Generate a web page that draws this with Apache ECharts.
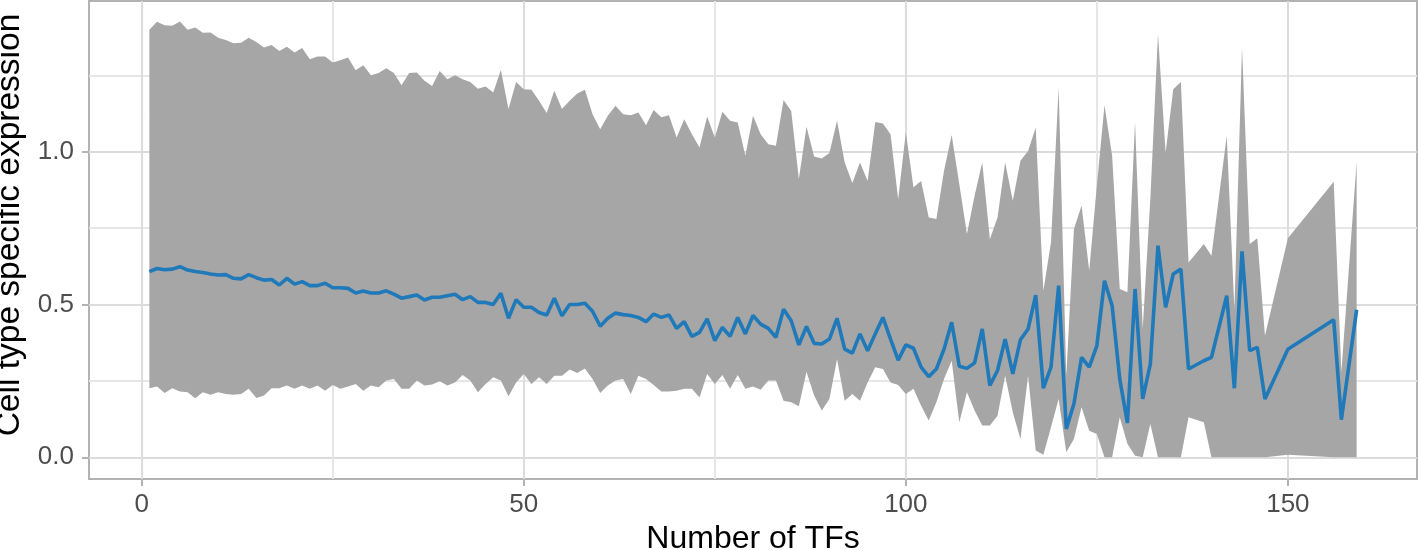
<!DOCTYPE html>
<html>
<head>
<meta charset="utf-8">
<script src="https://cdn.jsdelivr.net/npm/echarts@6/dist/echarts.min.js"></script>
<style>
html,body{margin:0;padding:0;background:#fff;}
#chart{width:1418px;height:550px;}
</style>
</head>
<body>
<div id="chart"></div>
<script>
var numTFs = [1,2,3,4,5,6,7,8,9,10,11,12,13,14,15,16,17,18,19,20,
 21,22,23,24,25,26,27,28,29,30,31,32,33,34,35,36,37,38,39,40,
 41,42,43,44,45,46,47,48,49,50,51,52,53,54,55,56,57,58,59,60,
 61,62,63,64,65,66,67,68,69,70,71,72,73,74,75,76,77,78,79,80,
 81,82,83,84,85,86,87,88,89,90,91,92,93,94,95,96,97,98,99,100,
 101,102,103,104,105,106,107,108,109,110,111,112,113,114,115,116,117,118,119,120,
 121,122,123,124,125,126,127,128,129,130,131,132,133,134,135,136,137,
 139,140,142,143,144,145,146,147,150,156,157,159];

var upperBand = [1.40,1.426,1.415,1.413,1.427,1.40,1.407,1.39,1.391,1.374,
 1.366,1.356,1.357,1.374,1.36,1.342,1.35,1.33,1.344,1.325,
 1.34,1.303,1.312,1.312,1.293,1.30,1.309,1.267,1.284,1.251,
 1.258,1.274,1.258,1.218,1.258,1.26,1.233,1.216,1.265,1.238,
 1.251,1.238,1.229,1.207,1.214,1.194,1.268,1.14,1.229,1.205,
 1.203,1.167,1.127,1.20,1.14,1.167,1.191,1.203,1.123,1.074,
 1.118,1.151,1.123,1.12,1.129,1.087,1.137,1.113,1.12,1.047,
 1.107,1.058,1.014,1.116,1.047,1.131,1.102,1.096,0.987,1.118,
 1.058,1.025,1.02,1.17,1.134,0.911,1.082,0.985,0.978,0.996,
 1.102,0.965,0.898,0.965,0.905,1.098,1.093,1.058,0.845,1.064,
 0.884,0.905,0.785,0.78,0.938,1.055,0.894,0.731,0.856,0.965,
 0.714,0.785,0.965,0.84,0.971,1.003,1.08,0.545,0.704,1.211,
 0.267,0.747,0.824,0.611,0.889,1.153,0.987,0.551,0.54,1.098,
 0.42,0.845,1.385,0.998,1.205,1.229,0.638,
 0.698,0.66,1.053,0.485,1.342,0.698,0.717,0.398,0.717,0.902,0.278,0.967];

var meanExpr = [0.608,0.618,0.614,0.616,0.624,0.613,0.608,0.605,0.60,0.597,
 0.598,0.586,0.584,0.598,0.588,0.58,0.582,0.564,0.586,0.567,
 0.575,0.562,0.562,0.57,0.555,0.555,0.553,0.538,0.544,0.538,
 0.538,0.545,0.534,0.521,0.526,0.531,0.515,0.524,0.524,0.529,
 0.534,0.516,0.526,0.507,0.507,0.50,0.537,0.455,0.516,0.491,
 0.491,0.474,0.466,0.521,0.463,0.50,0.50,0.504,0.478,0.429,
 0.455,0.472,0.467,0.464,0.458,0.444,0.469,0.458,0.466,0.422,
 0.444,0.396,0.409,0.453,0.382,0.425,0.396,0.458,0.404,0.464,
 0.436,0.422,0.393,0.485,0.447,0.368,0.428,0.373,0.371,0.387,
 0.455,0.354,0.341,0.404,0.349,0.404,0.458,0.387,0.318,0.368,
 0.357,0.295,0.264,0.289,0.354,0.442,0.298,0.291,0.309,0.42,
 0.235,0.284,0.387,0.273,0.385,0.42,0.531,0.226,0.295,0.562,
 0.093,0.175,0.327,0.295,0.365,0.578,0.496,0.256,0.112,0.551,
 0.191,0.305,0.693,0.491,0.60,0.616,0.289,
 0.316,0.327,0.529,0.226,0.674,0.349,0.36,0.191,0.354,0.45,0.123,0.483];

var lowerBand = [0.226,0.232,0.21,0.226,0.215,0.213,0.193,0.213,0.205,0.213,
 0.207,0.205,0.207,0.224,0.194,0.202,0.226,0.226,0.235,0.224,
 0.235,0.224,0.235,0.218,0.237,0.224,0.232,0.24,0.218,0.235,
 0.229,0.251,0.256,0.224,0.224,0.251,0.235,0.238,0.249,0.235,
 0.245,0.269,0.251,0.213,0.24,0.262,0.251,0.20,0.245,0.273,
 0.24,0.262,0.24,0.267,0.267,0.287,0.276,0.291,0.256,0.21,
 0.235,0.251,0.256,0.207,0.267,0.256,0.237,0.215,0.215,0.218,
 0.224,0.224,0.196,0.273,0.24,0.269,0.224,0.269,0.224,0.232,
 0.221,0.251,0.251,0.185,0.18,0.167,0.28,0.202,0.153,0.191,
 0.322,0.185,0.207,0.185,0.245,0.295,0.289,0.245,0.237,0.207,
 0.224,0.169,0.12,0.18,0.256,0.316,0.115,0.213,0.153,0.104,
 0.104,0.136,0.267,0.147,0.06,0.267,0.022,0.008,0.098,0.191,
 0.016,0.06,0.164,0.087,0.076,0,0,0.131,0.044,0.005,
 0,0.109,0,0,0,0,0.131,
 0.115,0,0,0,0,0,0,0,0.008,0,0,0];

var xMajorTicks = [0, 50, 100, 150];
var xGridValues = [0, 25, 50, 75, 100, 125, 150];
var yMajorTicks = [0, 0.5, 1.0];
var yGridValues = [0, 0.25, 0.5, 0.75, 1.0, 1.25];

var FONT = "'Liberation Sans', Arial, Helvetica, sans-serif";
var X_MIN = -6.9, X_MAX = 166.9, Y_MIN = -0.0712, Y_MAX = 1.494;

var bandData = numTFs.map(function (x, i) { return [x, lowerBand[i], upperBand[i]]; });
var meanData = numTFs.map(function (x, i) { return [x, meanExpr[i]]; });

var chart = echarts.init(document.getElementById('chart'), null, {renderer: 'canvas'});
chart.setOption({
  animation: false,
  backgroundColor: '#ffffff',
  grid: {left: 89, right: 1, top: 1, bottom: 71, show: true, borderColor: '#b3b3b3', borderWidth: 2,
    backgroundColor: 'transparent', containLabel: false, outerBoundsMode: 'none'},
  xAxis: [{
    type: 'value', min: X_MIN, max: X_MAX, position: 'bottom',
    name: 'Number of TFs', nameLocation: 'middle', nameGap: 44,
    nameTextStyle: {fontFamily: FONT, fontSize: 32, color: '#000000'},
    axisLine: {show: false, onZero: false},
    axisTick: {show: false, customValues: xGridValues},
    axisLabel: {customValues: xMajorTicks, fontFamily: FONT, fontSize: 26, color: '#4d4d4d', margin: 13},
    splitLine: {show: true, lineStyle: {color: ['#dcdcdc', '#e6e6e6'], width: 2}}
  }, {
    type: 'value', min: X_MIN, max: X_MAX, position: 'bottom', offset: 0,
    axisLine: {show: false, onZero: false},
    axisTick: {show: true, customValues: xMajorTicks, length: 7, lineStyle: {color: '#b3b3b3', width: 2}},
    axisLabel: {show: false},
    splitLine: {show: false}
  }],
  yAxis: [{
    type: 'value', min: Y_MIN, max: Y_MAX, position: 'left',
    name: 'Cell type specific expression', nameLocation: 'middle', nameGap: 55, nameRotate: 90,
    nameTextStyle: {fontFamily: FONT, fontSize: 33.5, color: '#000000', padding: [0, 0, 0, 30]},
    axisLine: {show: false, onZero: false},
    axisTick: {show: false, customValues: yGridValues},
    axisLabel: {customValues: yMajorTicks, fontFamily: FONT, fontSize: 26, color: '#4d4d4d', margin: 15,
      formatter: function (v) { return v.toFixed(1); }},
    splitLine: {show: true, lineStyle: {color: ['#dcdcdc', '#e6e6e6'], width: 2}}
  }, {
    type: 'value', min: Y_MIN, max: Y_MAX, position: 'left', offset: 0,
    axisLine: {show: false, onZero: false},
    axisTick: {show: true, customValues: yMajorTicks, length: 7, lineStyle: {color: '#b3b3b3', width: 2}},
    axisLabel: {show: false},
    splitLine: {show: false}
  }],
  series: [{
    type: 'custom',
    xAxisIndex: 0, yAxisIndex: 0,
    data: bandData,
    encode: {x: 0, y: [1, 2]},
    silent: true,
    renderItem: function (params, api) {
      if (params.dataIndex !== 0) return null;
      var pts = [];
      for (var i = 0; i < bandData.length; i++) pts.push(api.coord([bandData[i][0], bandData[i][2]]));
      for (var j = bandData.length - 1; j >= 0; j--) pts.push(api.coord([bandData[j][0], bandData[j][1]]));
      return {type: 'polygon', shape: {points: pts}, style: {fill: '#a6a6a6', stroke: null}};
    },
    z: 2
  }, {
    type: 'line',
    xAxisIndex: 0, yAxisIndex: 0,
    data: meanData,
    showSymbol: false,
    symbol: 'none',
    lineStyle: {color: '#2079b9', width: 3.6},
    z: 3
  }]
});
</script>
</body>
</html>
